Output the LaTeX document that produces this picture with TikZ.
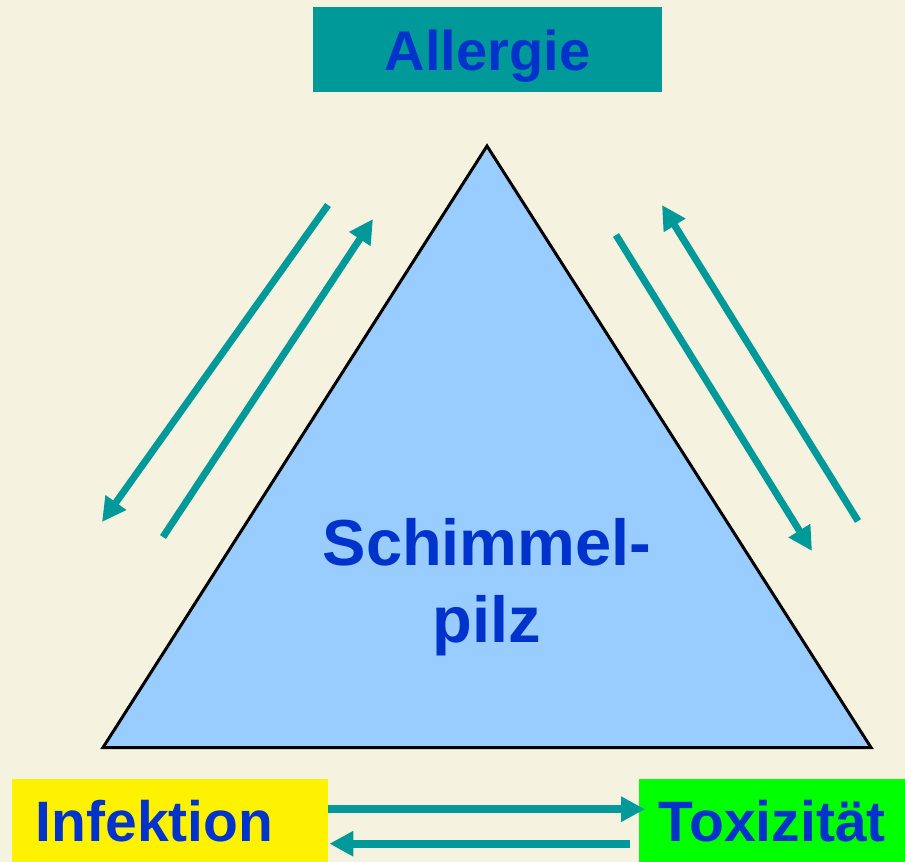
\documentclass[tikz,border=0pt]{standalone}
\usepackage{fontspec}
\setmainfont{Liberation Sans}
\usepackage{xcolor}
\usepackage{tikz}
\usetikzlibrary{arrows.meta, positioning, calc}

\definecolor{bgbeige}{HTML}{F5F2E0}
\definecolor{arrowteal}{HTML}{009999}
\definecolor{labelblue}{HTML}{0033CC}
\definecolor{skyfill}{HTML}{99CCFF}

\begin{document}
\begin{tikzpicture}[x=1pt, y=-1pt,
  tagbox/.style={inner sep=0, text=labelblue, font=\bfseries\fontsize{57}{66}\selectfont},
  flow/.style={draw=arrowteal, line width=7pt, -{Triangle[length=24pt, width=24pt]}}]
  % Background
  \useasboundingbox (0,0) rectangle (905,862);
  \fill[bgbeige] (0,0) rectangle (905,862);

  % Triangle
  \coordinate (apex) at (487,146);
  \coordinate (baseL) at (103,747.5);
  \coordinate (baseR) at (871,747.5);
  \draw[line width=3pt, line join=miter, fill=skyfill] (apex) -- (baseL) -- (baseR) -- cycle;
  \node[text=labelblue, align=center, inner sep=0,
        font=\bfseries\fontsize{65}{77}\selectfont] (schimmel) at (487,587) {Schimmel-\\pilz};

  % Boxes
  \node[tagbox, font=\bfseries\fontsize{56}{66}\selectfont, fill=arrowteal, text height=41pt, text depth=0pt,
        minimum width=349pt, minimum height=85pt] (allergie) at (487.5,49.5) {Allergie};
  \node[tagbox, fill=yellow, anchor=north west, inner xsep=24pt, text width=268.5pt,
        align=left, minimum height=84pt] (infektion) at (11.5,779) {Infektion};
  \node[tagbox, fill=green, anchor=north west, minimum width=266pt,
        minimum height=84pt] (toxizitaet) at (639,779) {Toxizität};

  % Arrows along the sides
  \coordinate (l1s) at (328,205);
  \coordinate (l1e) at (102,522);
  \coordinate (l2s) at (163,537);
  \coordinate (l2e) at (373,219);
  \coordinate (r1s) at (616,235);
  \coordinate (r1e) at (812,551);
  \coordinate (r2s) at (858,521);
  \coordinate (r2e) at (662,205);
  \foreach \s/\e in {l1s/l1e, l2s/l2e, r1s/r1e, r2s/r2e} {
    \draw[flow] (\s) -- (\e);
  }

  % Arrows between the bottom boxes
  \draw[flow, line width=8pt] ($(infektion.east)+(0,-12)$) -- ($(toxizitaet.west)+(6,-12)$);
  \draw[flow, line width=8pt] ($(toxizitaet.west)+(-9,22.5)$) -- ($(infektion.east)+(1,22.5)$);
\end{tikzpicture}
\end{document}
